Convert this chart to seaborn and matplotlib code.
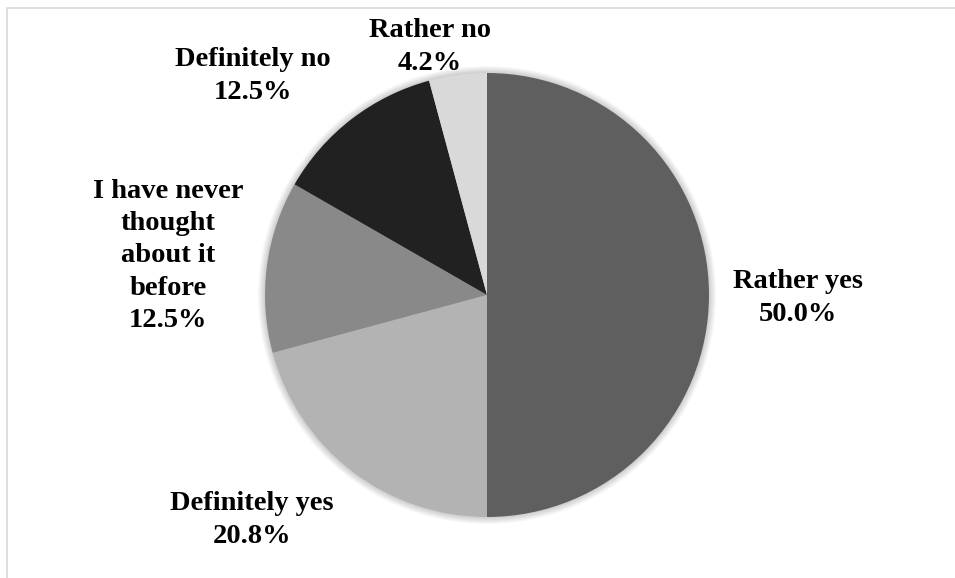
import matplotlib
matplotlib.use("Agg")
import matplotlib.pyplot as plt
import seaborn as sns
from matplotlib.patches import Circle, Rectangle

# Survey answers, clockwise from 12 o'clock
categories = ["Rather yes", "Definitely yes", "I have never\nthought\nabout it\nbefore",
              "Definitely no", "Rather no"]
shares = [50.0, 20.8, 12.5, 12.5, 4.2]
colors = ["#5f5f5f", "#b3b3b3", "#898989", "#212121", "#d9d9d9"]

# Label anchor points in figure pixels (from top-left)
label_px = [(798, 298), (252, 520), (168, 256), (253, 76), (430, 47)]

sns.set_theme(style="white")
plt.rcParams["font.family"] = ["Liberation Serif", "DejaVu Serif"]

W, H = 955, 578
fig = plt.figure(figsize=(W / 100, H / 100), dpi=100)
fig.patch.set_facecolor("white")

# light frame around the chart area
fig.add_artist(Rectangle((7 / W, -0.05), 1.1, (H - 8) / H + 0.05,
                         transform=fig.transFigure, fill=False,
                         edgecolor="#d9d9d9", linewidth=1.2))

cx, cy, r = 487, 295, 222
ax = fig.add_axes([(cx - r) / W, (H - cy - r) / H, 2 * r / W, 2 * r / H])
ax.set_xlim(-1, 1)
ax.set_ylim(-1, 1)
ax.set_aspect("equal")
ax.axis("off")

# soft shadow around the pie
for i in range(8):
    ax.add_patch(Circle((0, 0), 1.0 + 0.004 * (i + 1), facecolor="black",
                        alpha=0.022, edgecolor="none", zorder=0, clip_on=False))

ax.pie(shares, colors=colors, startangle=90, counterclock=False, radius=1.0,
       wedgeprops=dict(linewidth=0, edgecolor="none"), frame=False)
ax.set_xlim(-1, 1)
ax.set_ylim(-1, 1)

for name, val, (px, py) in zip(categories, shares, label_px):
    fig.text(px / W, 1 - py / H, f"{name}\n{val:.1f}%", ha="center", va="center",
             fontsize=20.5, fontweight="bold", color="black", linespacing=1.37)

fig.savefig("out.png", dpi=100, facecolor="white")
